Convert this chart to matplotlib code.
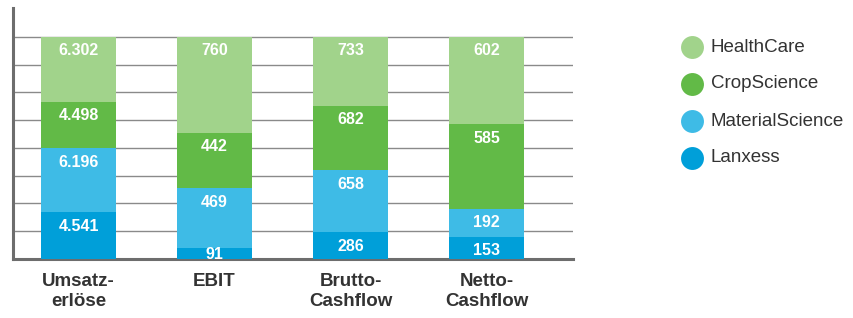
import matplotlib.pyplot as plt
from matplotlib.lines import Line2D
import numpy as np

plt.rcParams['font.family'] = ['Liberation Sans', 'DejaVu Sans']

categories = ['Umsatz-\nerlöse', 'EBIT', 'Brutto-\nCashflow', 'Netto-\nCashflow']
segments = ['Lanxess', 'MaterialScience', 'CropScience', 'HealthCare']
lanxess = [4541, 91, 286, 153]
material = [6196, 469, 658, 192]
crop = [4498, 442, 682, 585]
health = [6302, 760, 733, 602]
value_labels = [
    ['4.541', '91', '286', '153'],
    ['6.196', '469', '658', '192'],
    ['4.498', '442', '682', '585'],
    ['6.302', '760', '733', '602'],
]

COLORS = ['#009FD9', '#3EBBE6', '#62BA47', '#A1D38B']
TEXT_DARK = '#333333'

W, H = 854, 318
data = np.array([lanxess, material, crop, health], dtype=float)
shares = data / data.sum(axis=0)

fig = plt.figure(figsize=(W / 100, H / 100), dpi=100)
ax = fig.add_axes([13 / W, 59 / H, 560 / W, 251 / H])

x = np.arange(len(categories))
bottom = np.zeros(len(categories))
for i, name in enumerate(segments):
    ax.bar(x, shares[i], bottom=bottom, width=0.55, color=COLORS[i],
           label=name, zorder=3)
    for j in range(len(categories)):
        top = bottom[j] + shares[i, j]
        if shares[i, j] < 0.08:
            ty = bottom[j] + shares[i, j] / 2 - 0.004
        else:
            ty = top - 0.063
        ax.text(x[j], ty, value_labels[i][j], ha='center', va='center',
                color='white', fontsize=11.5, fontweight='bold', zorder=4)
    bottom += shares[i]

ax.set_xlim(-0.482, 3.636)
ax.set_ylim(0, 1.1306)
ax.set_yticks(np.arange(0.125, 1.01, 0.125))
ax.set_yticklabels([])
ax.grid(axis='y', color='#8a8a8a', linewidth=1.0, zorder=0)
ax.set_axisbelow(True)
ax.tick_params(axis='y', length=0)
ax.set_xticks(x)
ax.set_xticklabels(categories, fontsize=13.5, fontweight='bold',
                   color=TEXT_DARK, linespacing=1.25)
ax.tick_params(axis='x', length=0, pad=10)

ax.spines['top'].set_visible(False)
ax.spines['right'].set_visible(False)
ax.spines['left'].set_color('#6d6d6d')
ax.spines['bottom'].set_color('#6d6d6d')
ax.spines['left'].set_linewidth(2.2)
ax.spines['bottom'].set_linewidth(2.2)

# legend drawn by hand: circle + label, top entry = HealthCare
legend_rows = [47, 84, 121, 158]
for k, i in enumerate(range(len(segments) - 1, -1, -1)):
    yf = 1 - legend_rows[k] / H
    fig.add_artist(Line2D([692 / W], [yf], transform=fig.transFigure,
                          marker='o', markersize=16.5, linestyle='none',
                          markerfacecolor=COLORS[i], markeredgecolor='none'))
    fig.text(711 / W, yf, segments[i], fontsize=13.5, color=TEXT_DARK,
             ha='left', va='center')

fig.savefig('out.png', dpi=100)
